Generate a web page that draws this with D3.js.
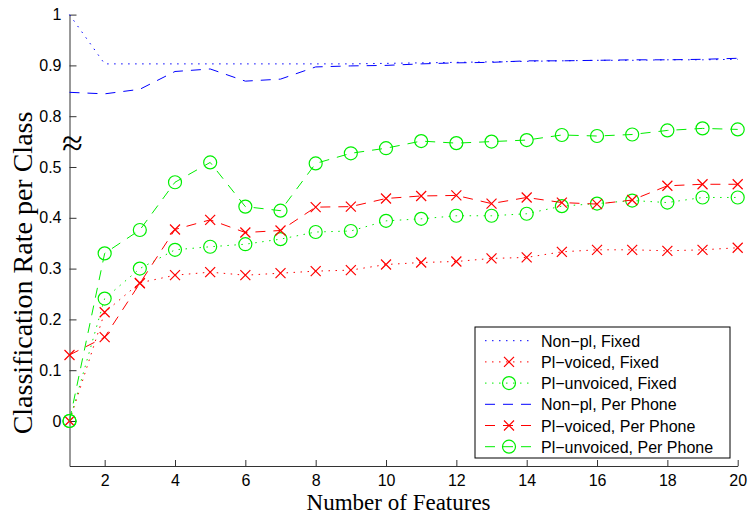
<!DOCTYPE html>
<html>
<head>
<meta charset="utf-8">
<script src="https://cdn.jsdelivr.net/npm/d3@7/dist/d3.min.js"></script>
<style>
  body { margin: 0; background: #fff; }
  .tick text { font-family: "Liberation Sans", Arial, sans-serif; font-size: 16px; fill: #000; }
</style>
</head>
<body>
<div id="chart"></div>
<script>
// number of features (x values)
const features = [1, 2, 3, 4, 5, 6, 7, 8, 9, 10, 11, 12, 13, 14, 15, 16, 17, 18, 19, 20];

// classification rate per class
const nonplFixed = [1.0, 0.903, 0.903, 0.903, 0.903, 0.903, 0.903, 0.903, 0.903, 0.904,
  0.905, 0.906, 0.907, 0.908, 0.909, 0.910, 0.910, 0.911, 0.911, 0.912];
const plVoicedFixed = [0, 0.214, 0.272, 0.287, 0.293, 0.287, 0.291, 0.295, 0.297, 0.308,
  0.312, 0.314, 0.320, 0.322, 0.333, 0.337, 0.337, 0.335, 0.337, 0.341];
const plUnvoicedFixed = [0, 0.241, 0.300, 0.337, 0.343, 0.348, 0.358, 0.372, 0.374, 0.394,
  0.398, 0.404, 0.404, 0.408, 0.423, 0.428, 0.434, 0.430, 0.440, 0.440];
const nonplPerPhone = [0.847, 0.844, 0.853, 0.888, 0.893, 0.869, 0.873, 0.897, 0.899, 0.900,
  0.903, 0.905, 0.906, 0.909, 0.909, 0.910, 0.911, 0.911, 0.912, 0.914];
const plVoicedPerPhone = [0.13, 0.165, 0.271, 0.377, 0.396, 0.371, 0.375, 0.421, 0.422, 0.438,
  0.443, 0.444, 0.428, 0.440, 0.430, 0.427, 0.435, 0.463, 0.466, 0.466];
const plUnvoicedPerPhone = [0, 0.330, 0.376, 0.470, 0.509, 0.422, 0.414, 0.507, 0.527, 0.537,
  0.551, 0.547, 0.550, 0.553, 0.563, 0.561, 0.564, 0.572, 0.576, 0.574];

const seriesNames = ['Non\u2212pl, Fixed', 'Pl\u2212voiced, Fixed', 'Pl\u2212unvoiced, Fixed',
  'Non\u2212pl, Per Phone', 'Pl\u2212voiced, Per Phone', 'Pl\u2212unvoiced, Per Phone'];

const xTicks = [2, 4, 6, 8, 10, 12, 14, 16, 18, 20];
const yTicks = [0, 0.1, 0.2, 0.3, 0.4, 0.5, 0.8, 0.9, 1];

const series = [
  { name: seriesNames[0], values: nonplFixed, color: '#0000ff', dash: '1.5,5.5', marker: null },
  { name: seriesNames[1], values: plVoicedFixed, color: '#ff0000', dash: '1.5,5.5', marker: 'x' },
  { name: seriesNames[2], values: plUnvoicedFixed, color: '#00ee00', dash: '1.5,5.5', marker: 'o' },
  { name: seriesNames[3], values: nonplPerPhone, color: '#0000ff', dash: '10,8', marker: null },
  { name: seriesNames[4], values: plVoicedPerPhone, color: '#ff0000', dash: '10,8', marker: 'x' },
  { name: seriesNames[5], values: plUnvoicedPerPhone, color: '#00ee00', dash: '10,8', marker: 'o' },
];

const width = 748;
const height = 514;
const plot = { left: 69.5, right: 737.7, top: 14.6, bottom: 466 };

const svg = d3.select('#chart')
  .append('svg')
  .attr('width', width)
  .attr('height', height);

const x = d3.scaleLinear()
  .domain([1, 20])
  .range([plot.left, plot.right]);

// broken axis: lower part runs up to 0.6, upper part starts at 0.8 at the same height
const y = d3.scaleLinear()
  .domain([-0.0886, 0.6, 0.8, 1])
  .range([plot.bottom, 116.2, 116.2, plot.top]);

// axes (ticks pointing inward, like matlab)
svg.append('g')
  .attr('transform', `translate(0, ${plot.bottom})`)
  .call(d3.axisBottom(x).tickValues(xTicks).tickSizeInner(-6).tickSizeOuter(0).tickPadding(9))
  .call(g => g.select('.domain').attr('stroke', '#333'))
  .call(g => g.selectAll('.tick line').attr('stroke', '#333'));

svg.append('g')
  .attr('transform', `translate(${plot.left}, 0)`)
  .call(d3.axisLeft(y).tickValues(yTicks).tickFormat(d => d3.format('')(d)).tickSizeInner(-7).tickSizeOuter(0).tickPadding(8))
  .call(g => g.select('.domain').attr('stroke', '#333'))
  .call(g => g.selectAll('.tick line').attr('stroke', '#333'));

// break mark
svg.append('text')
  .attr('x', plot.left + 3)
  .attr('y', 156)
  .attr('text-anchor', 'middle')
  .style('font-family', '"Liberation Serif", serif')
  .style('font-size', '38px')
  .text('\u2248');

const line = d3.line()
  .x((d, i) => x(features[i]))
  .y(d => y(d));

const crossPath = (cx, cy, r) => `M${cx - r},${cy - r}L${cx + r},${cy + r}M${cx - r},${cy + r}L${cx + r},${cy - r}`;

function drawMarker(g, type, cx, cy, color) {
  if (type === 'x') {
    g.append('path')
      .attr('d', crossPath(cx, cy, 5))
      .attr('stroke', color)
      .attr('stroke-width', 1.2)
      .attr('fill', 'none');
  } else if (type === 'o') {
    g.append('circle')
      .attr('cx', cx).attr('cy', cy).attr('r', 6.5)
      .attr('stroke', color)
      .attr('stroke-width', 1.2)
      .attr('fill', 'none');
  }
}

series.forEach(s => {
  const g = svg.append('g');
  g.append('path')
    .datum(s.values)
    .attr('d', line)
    .attr('fill', 'none')
    .attr('stroke', s.color)
    .attr('stroke-width', 1)
    .attr('stroke-dasharray', s.dash);
  if (s.marker) {
    s.values.forEach((v, i) => drawMarker(g, s.marker, x(features[i]), y(v), s.color));
  }
});

// legend
const legend = svg.append('g');
legend.append('rect')
  .attr('x', 475).attr('y', 327)
  .attr('width', 255).attr('height', 131)
  .attr('fill', '#fff')
  .attr('stroke', '#000');

series.forEach((s, i) => {
  const ly = 340.7 + i * 21.2;
  legend.append('line')
    .attr('x1', 485).attr('x2', 533)
    .attr('y1', ly).attr('y2', ly)
    .attr('stroke', s.color)
    .attr('stroke-dasharray', s.dash);
  if (s.marker) drawMarker(legend, s.marker, 509, ly, s.color);
  legend.append('text')
    .attr('x', 541)
    .attr('y', ly + 6)
    .style('font-family', '"Liberation Sans", Arial, sans-serif')
    .style('font-size', '16px')
    .text(s.name);
});

// axis labels
svg.append('text')
  .attr('x', (plot.left + plot.right) / 2 - 5)
  .attr('y', 510)
  .attr('text-anchor', 'middle')
  .style('font-family', '"Liberation Serif", "Times New Roman", serif')
  .style('font-size', '23px')
  .text('Number of Features');

svg.append('text')
  .attr('transform', 'translate(32, 273) rotate(-90)')
  .attr('text-anchor', 'middle')
  .style('font-family', '"Liberation Serif", "Times New Roman", serif')
  .style('font-size', '28px')
  .text('Classification Rate per Class');
</script>
</body>
</html>
